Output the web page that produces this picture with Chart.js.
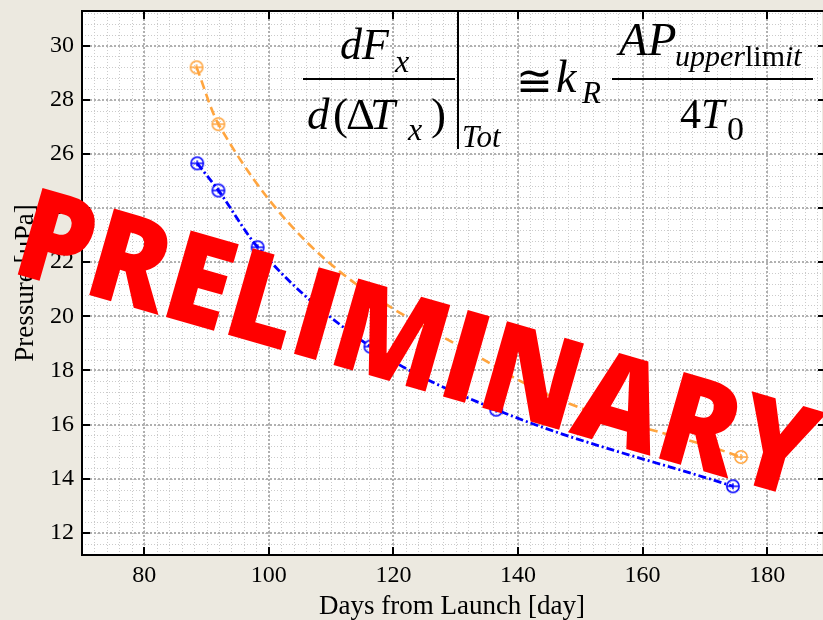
<!DOCTYPE html>
<html>
<head>
<meta charset="utf-8">
<script src="https://cdn.jsdelivr.net/npm/chart.js@4.4.0/dist/chart.umd.min.js"></script>
<style>
  html, body { margin: 0; padding: 0; background: #ECE9E0; overflow: hidden; }
  #wrap { width: 823px; height: 620px; }
</style>
</head>
<body>
<div id="wrap"><canvas id="mychart" width="823" height="620"></canvas></div>
<script>
// ---- data ----
const orangeDays = [88.4, 91.9, 137.4, 175.8];
const orangePressure = [29.2, 27.1, 18.0, 14.8];
const blueDays = [88.5, 91.9, 98.2, 116.3, 136.5, 174.5];
const bluePressure = [25.65, 24.65, 22.55, 18.88, 16.55, 13.72];
const xTicks = [80, 100, 120, 140, 160, 180];
const yTicks = [12, 14, 16, 18, 20, 22, 24, 26, 28, 30];

const serif = '"Liberation Serif", "Times New Roman", serif';

// open circle marker with a small bar inside
function marker(color) {
    const c = document.createElement('canvas');
    c.width = 16; c.height = 16;
    const g = c.getContext('2d');
    g.strokeStyle = color;
    g.lineWidth = 1.5;
    g.beginPath(); g.arc(8, 8, 6.2, 0, Math.PI * 2); g.stroke();
    g.beginPath(); g.moveTo(2, 8); g.lineTo(14, 8); g.stroke();
    g.beginPath(); g.moveTo(8, 5); g.lineTo(8, 11); g.stroke();
    return c;
}

function pts(xs, ys) {
    return xs.map((d, i) => ({x: d, y: ys[i]}));
}

/*------ grid, box, ticks ------*/
const frame = {
    id: 'frame',
    beforeDatasetsDraw(chart) {
        const {ctx, chartArea: a, scales: {x, y}} = chart;
        ctx.save();
        ctx.fillStyle = '#fff';
        ctx.fillRect(a.left, a.top, a.right - a.left, a.bottom - a.top);
        // minor grid
        ctx.strokeStyle = '#cbcbcb';
        ctx.lineWidth = 1;
        ctx.setLineDash([1, 2]);
        for (let k = 35; k <= 95; k++) {
            const px = Math.round(x.getPixelForValue(k * 2)) + 0.5;
            if (px < a.left || px > a.right) continue;
            ctx.beginPath(); ctx.moveTo(px, a.top); ctx.lineTo(px, a.bottom); ctx.stroke();
        }
        for (let k = -2; k <= 49; k++) {
            const py = Math.round(y.getPixelForValue(12 + k * 0.4)) + 0.5;
            if (py < a.top || py > a.bottom) continue;
            ctx.beginPath(); ctx.moveTo(a.left, py); ctx.lineTo(a.right, py); ctx.stroke();
        }
        // major grid
        ctx.strokeStyle = '#b0b0b0';
        ctx.lineWidth = 2;
        ctx.setLineDash([2, 2]);
        xTicks.forEach(v => {
            const px = Math.round(x.getPixelForValue(v));
            ctx.beginPath(); ctx.moveTo(px, a.top); ctx.lineTo(px, a.bottom); ctx.stroke();
        });
        yTicks.forEach(v => {
            const py = Math.round(y.getPixelForValue(v));
            ctx.beginPath(); ctx.moveTo(a.left, py); ctx.lineTo(a.right, py); ctx.stroke();
        });
        ctx.restore();
    },
    afterDatasetsDraw(chart) {
        const {ctx, chartArea: a, scales: {x, y}} = chart;
        ctx.save();
        ctx.strokeStyle = '#000';
        ctx.lineWidth = 2;
        ctx.strokeRect(a.left, a.top, a.right - a.left + 4, a.bottom - a.top);
        xTicks.forEach(v => {
            const px = Math.round(x.getPixelForValue(v));
            ctx.beginPath();
            ctx.moveTo(px, a.bottom); ctx.lineTo(px, a.bottom - 8);
            ctx.moveTo(px, a.top); ctx.lineTo(px, a.top + 8);
            ctx.stroke();
        });
        yTicks.forEach(v => {
            const py = Math.round(y.getPixelForValue(v));
            ctx.beginPath();
            ctx.moveTo(a.left, py); ctx.lineTo(a.left + 8, py);
            ctx.moveTo(a.right + 2, py); ctx.lineTo(a.right - 4, py);
            ctx.stroke();
        });
        ctx.restore();
    }
};

/*------ formula and stamp ------*/
const overlay = {
    id: 'overlay',
    afterDraw(chart) {
        const ctx = chart.ctx;
        ctx.save();
        ctx.fillStyle = '#000';
        ctx.textBaseline = 'alphabetic';
        const put = (s, x0, y0, size, italic) => {
            ctx.font = (italic ? 'italic ' : '') + size + 'px ' + serif;
            ctx.fillText(s, x0, y0);
            return x0 + ctx.measureText(s).width;
        };
        // left fraction
        put('dF', 340, 59, 44, true);
        put('x', 395, 72, 32, true);
        ctx.fillRect(303, 78, 152, 2);
        put('d', 307, 129, 45, true);
        put('(', 333, 129, 45, false);
        put('\u0394', 346, 129, 45, false);
        put('T', 370, 129, 45, true);
        put('x', 408, 140, 32, true);
        put(')', 431, 129, 45, false);
        ctx.fillRect(457, 10, 2, 139);
        put('Tot', 462, 147, 31, true);
        // right side
        put('\u2245', 516, 96, 44, false);
        put('k', 556, 92, 46, true);
        put('R', 582, 103, 31, true);
        ctx.fillRect(612, 78, 201, 2);
        put('AP', 619, 55, 47, true);
        let cx = put('upper', 675, 66, 30, true);
        cx = put('lim', cx, 66, 30, false);
        put('it', cx, 66, 30, true);
        cx = put('4', 680, 128, 42, false);
        put('T', cx, 128, 42, true);
        put('0', 727, 140, 34, false);

        // PRELIMINARY stamp
        ctx.translate(9, 272);
        ctx.rotate(16 * Math.PI / 180);
        ctx.scale(0.935, 1);
        ctx.fillStyle = '#ff0000';
        ctx.font = '800 126px "Open Sans", "DejaVu Sans", sans-serif';
        ctx.fillText('PRELIMINARY', 0, 0);
        ctx.restore();
    }
};

const ctx1 = document.getElementById('mychart').getContext('2d');
const myChart = new Chart(ctx1, {
    type: 'scatter',
    data: {
        datasets: [{
            label: 'upper',
            data: pts(orangeDays, orangePressure),
            showLine: true,
            borderColor: '#FFA53F',
            borderWidth: 2.6,
            borderDash: [9, 5],
            cubicInterpolationMode: 'monotone',
            pointStyle: marker('#FFA53F'),
            pointRadius: 7
        }, {
            label: 'total',
            data: pts(blueDays, bluePressure),
            showLine: true,
            borderColor: '#0000FF',
            borderWidth: 2.8,
            borderDash: [8, 3, 2, 3],
            cubicInterpolationMode: 'monotone',
            pointStyle: marker('#0000FF'),
            pointRadius: 7
        }]
    },
    options: {
        responsive: false,
        animation: false,
        layout: {autoPadding: false, padding: {top: 11, right: 1, left: 0, bottom: 0}},
        plugins: {legend: {display: false}, tooltip: {enabled: false}},
        scales: {
            x: {
                type: 'linear', min: 70, max: 188.8,
                afterBuildTicks: s => { s.ticks = xTicks.map(v => ({value: v})); },
                afterFit: s => { s.height = 65; s.paddingLeft = 0; s.paddingRight = 0; },
                grid: {display: false},
                border: {display: false},
                ticks: {color: '#000', font: {family: serif, size: 24}, padding: -2, maxRotation: 0},
                title: {display: true, text: 'Days from Launch [day]', color: '#000',
                        font: {family: serif, size: 27, lineHeight: 1}, padding: {top: 0, bottom: 0}}
            },
            y: {
                type: 'linear', min: 11.18, max: 31.28,
                afterBuildTicks: s => { s.ticks = yTicks.map(v => ({value: v})); },
                afterFit: s => { s.width = 82; s.paddingTop = 0; s.paddingBottom = 0; },
                grid: {display: false},
                border: {display: false},
                ticks: {color: '#000', font: {family: serif, size: 24}, padding: 0},
                title: {display: true, text: 'Pressure [\u03bcPa]', color: '#000',
                        font: {family: serif, size: 27, lineHeight: 1}, padding: {top: 12, bottom: 0}}
            }
        }
    },
    plugins: [frame, overlay]
});
</script>
</body>
</html>
